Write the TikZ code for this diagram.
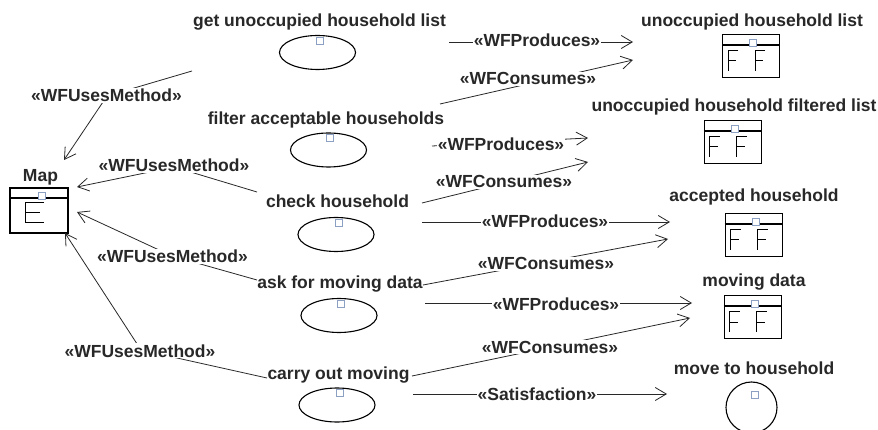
\documentclass[tikz,border=0pt]{standalone}
\usepackage{fontspec}
\setmainfont{Liberation Sans}
\usetikzlibrary{arrows.meta,shapes.geometric}
\definecolor{pinc}{RGB}{140,160,195}
\definecolor{ink}{RGB}{40,40,40}
\tikzset{
  lbl/.style={font=\bfseries\fontsize{17.5}{20}\selectfont, text=ink, inner sep=0pt, anchor=base},
  st/.style={lbl, fill=white, inner sep=1pt},
  act/.style={draw=black, line width=1.1pt, ellipse, minimum width=76pt, minimum height=34pt, inner sep=0pt},
  pinsq/.style={draw=pinc, line width=0.8pt, fill=white, minimum size=7pt, inner sep=0pt, rectangle},
  conn/.style={draw=ink, line width=0.8pt},
  arr/.style={conn, -{Straight Barb[length=11pt,width=13pt]}},
  objline/.style={draw=black, line width=1.1pt},
  glyph/.style={draw=black, line width=1pt},
  ffbox/.pic={
    \node[objline, rectangle, minimum width=57pt, minimum height=43pt, inner sep=0pt, anchor=north west] (-box) at (0,0) {};
    \draw[objline] (0,11) -- (57,11);
    \draw[glyph] (16,17) -- (6,17) -- (6,37) (6,27) -- (14,27);
    \draw[glyph] (43,17) -- (33,17) -- (33,37) (33,27) -- (41,27);
    \node[pinsq] (-pin) at (31,8.5) {};
  }
}
\begin{document}
\begin{tikzpicture}[x=1pt,y=-1pt]
\fill[white] (0,0) rectangle (878,430);
\clip (0,0) rectangle (878,430);
\useasboundingbox (0,0) rectangle (878,430);

% activities
\node[lbl] (a1l) at (319.5,27) {get unoccupied household list};
\node[act] (a1) at (317.5,52.5) {};
\node[pinsq] (a1p) at (320,40.5) {};
\node[lbl] (a2l) at (326,125) {filter acceptable households};
\node[act] (a2) at (328.5,150) {};
\node[pinsq] (a2p) at (330,137.5) {};
\node[lbl] (a3l) at (337.5,208) {check household};
\node[act] (a3) at (336,234.5) {};
\node[pinsq] (a3p) at (338.5,222.5) {};
\node[lbl] (a4l) at (340,289) {ask for moving data};
\node[act] (a4) at (339,315.5) {};
\node[pinsq] (a4p) at (341,303.5) {};
\node[lbl] (a5l) at (338.5,379.5) {carry out moving};
\node[act] (a5) at (337,405) {};
\node[pinsq] (a5p) at (339.5,393) {};

% Map
\node[lbl] (mapl) at (40.5,182) {Map};
\node[objline, rectangle, minimum width=58pt, minimum height=45pt, inner sep=0pt] (map) at (39,210.5) {};
\draw[objline] (10,198) -- (68,198);
\draw[glyph] (44,203) -- (25,203) -- (25,223) -- (44,223) (25,213) -- (40,213);
\node[pinsq] (mapp) at (41.5,196) {};

% objects
\node[lbl] (b1l) at (752,27) {unoccupied household list};
\pic (b1) at (722,34) {ffbox};
\node[lbl] (b2l) at (734,112) {unoccupied household filtered list};
\pic (b2) at (703.5,120) {ffbox};
\node[lbl] (b3l) at (754,202) {accepted household};
\pic (b3) at (724.5,213) {ffbox};
\node[lbl] (b4l) at (754,287) {moving data};
\pic (b4) at (723.5,295) {ffbox};

% goal
\node[lbl] (g1l) at (754,374) {move to household};
\node[draw=black, line width=1.1pt, circle, minimum size=51pt, inner sep=0pt] (g1) at (751.5,407.5) {};
\node[pinsq] (g1p) at (755,395) {};

% connector end points
\coordinate (p1s) at (449,42);  \coordinate (p1e) at (633,42);
\coordinate (c1s) at (440,104); \coordinate (c1e) at (633,60);
\coordinate (p2s) at (432,146); \coordinate (p2e) at (588,138);
\coordinate (c2s) at (422,203); \coordinate (c2e) at (588,162);
\coordinate (p3s) at (422,222); \coordinate (p3e) at (670,222);
\coordinate (c3s) at (423,285); \coordinate (c3e) at (668,239);
\coordinate (p4s) at (425,303); \coordinate (p4e) at (692,303);
\coordinate (c4s) at (412,376); \coordinate (c4e) at (690,318);
\coordinate (s1s) at (413,394); \coordinate (s1e) at (667,394);
\coordinate (u1s) at (192,71);  \coordinate (u1b) at (107,96);  \coordinate (u1e) at (64,160);
\coordinate (u2s) at (257,192); \coordinate (u2b) at (174,167); \coordinate (u2e) at (77,187);
\coordinate (u3s) at (257,280); \coordinate (u3b) at (172,256); \coordinate (u3e) at (77,212);
\coordinate (u4s) at (267,378); \coordinate (u4b) at (141,350); \coordinate (u4e) at (65,233);

% connectors
\draw[arr] (p1s) -- (p1e);
\draw[arr] (c1s) -- (c1e);
\draw[arr] (p2s) -- (p2e);
\draw[arr] (c2s) -- (c2e);
\draw[arr] (p3s) -- (p3e);
\draw[arr] (c3s) -- (c3e);
\draw[arr] (p4s) -- (p4e);
\draw[arr] (c4s) -- (c4e);
\draw[arr] (s1s) -- (s1e);
\draw[arr] (u1s) -- (u1b) -- (u1e);
\draw[arr] (u2s) -- (u2b) -- (u2e);
\draw[arr] (u3s) -- (u3b) -- (u3e);
\draw[arr] (u4s) -- (u4b) -- (u4e);

% connector labels
\node[st] (p1) at (537,47) {«WFProduces»};
\node[st] (c1) at (528,85) {«WFConsumes»};
\node[st] (p2) at (501,151) {«WFProduces»};
\node[st] (c2) at (504,188) {«WFConsumes»};
\node[st] (p3) at (545,228) {«WFProduces»};
\node[st] (c3) at (546,270) {«WFConsumes»};
\node[st] (p4) at (556,310) {«WFProduces»};
\node[st] (c4) at (550,353) {«WFConsumes»};
\node[st] (s1) at (537,400) {«Satisfaction»};
\node[st] (u1) at (106.5,102) {«WFUsesMethod»};
\node[st] (u2) at (174,172) {«WFUsesMethod»};
\node[st] (u3) at (172.5,263) {«WFUsesMethod»};
\node[st] (u4) at (140,357) {«WFUsesMethod»};
\end{tikzpicture}
\end{document}
